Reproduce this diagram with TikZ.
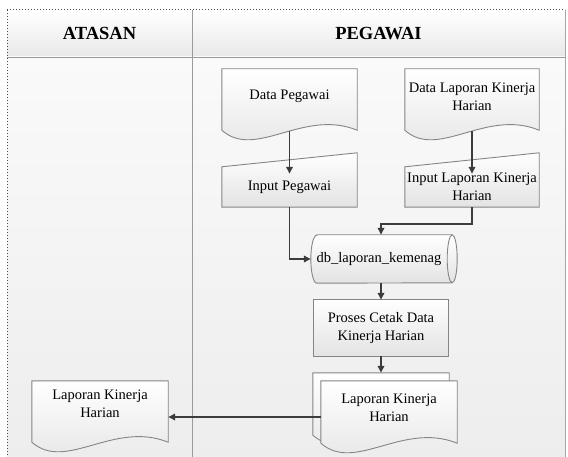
\documentclass[tikz,border=0pt]{standalone}
\usepackage{fontspec}
\setmainfont{Liberation Serif}
\usetikzlibrary{arrows.meta,calc}
\pgfdeclarelayer{lanes}
\pgfdeclarelayer{shapes}
\pgfsetlayers{lanes,shapes,main}
\definecolor{edgec}{HTML}{858585}
\definecolor{arrowc}{HTML}{3C3C3C}
\definecolor{lanec}{HTML}{9A9A9A}
\tikzset{
  box/.style={inner sep=0pt, align=center, font=\fontsize{14.5}{18}\selectfont},
  head/.style={font=\fontsize{18.5}{22}\selectfont\bfseries},
  outline/.style={draw=edgec, line width=0.9pt, top color=white, bottom color=black!11},
  arr/.style={draw=arrowc, line width=1.6pt, -{Triangle[length=7pt,width=6.5pt]}},
}
% #1 node, #2 side extension below node, #3 shift
\newcommand{\docoutline}[3]{%
  \draw[outline] ($(#1.north west)+(#3)$) -- ($(#1.north east)+(#3)$)
    -- ($(#1.south east)+(0,#2)+(#3)$)
    .. controls ($(#1.south west)!0.6!(#1.south east)+(0,#2-22)+(#3)$)
       and ($(#1.south west)!0.25!(#1.south east)+(0,#2+30)+(#3)$)
    .. ($(#1.south west)+(0,#2)+(#3)$) -- cycle;}
\begin{document}
\begin{tikzpicture}[x=1pt,y=-1pt]
\useasboundingbox (0,0) rectangle (568,457);
% lanes
\begin{pgfonlayer}{lanes}
  \shade[top color=white, bottom color=black!9] (7,10) rectangle (565,57);
  \shade[top color=black!2, bottom color=black!7] (7,57) rectangle (565,457);
  \draw[lanec, line width=0.8pt] (7,57) -- (565,57);
  \draw[lanec, line width=0.8pt] (192,10) -- (192,457);
  \draw[black!35, line width=0.6pt] (565,10) -- (565,457);
  \draw[black!70, line width=1pt, dotted] (7,10) -- (565,10);
  \draw[black!70, line width=1pt, dotted] (7,10) -- (7,457);
\end{pgfonlayer}
\node[head] (hA) at (99.5,33.5) {ATASAN};
\node[head] (hP) at (378.5,33.5) {PEGAWAI};
% nodes
\node[box, minimum width=135pt, minimum height=55pt] (dp) at (289.5,96.5) {Data Pegawai};
\node[box, minimum width=134pt, minimum height=55pt] (dl) at (472,96.5) {Data Laporan Kinerja\\Harian};
\node[box, minimum width=135pt, minimum height=40pt] (ip) at (289.5,187) {Input Pegawai};
\node[box, minimum width=134pt, minimum height=40pt] (il) at (472,187) {Input Laporan Kinerja\\Harian};
\node[box, minimum width=136pt, minimum height=48pt] (db) at (379,259) {db\_laporan\_kemenag};
\node[box, minimum width=135pt, minimum height=56pt] (pc) at (381,328) {Proses Cetak Data\\Kinerja Harian};
\node[box, minimum width=136pt, minimum height=54pt] (md) at (389,408) {Laporan Kinerja\\Harian};
\node[box, minimum width=136pt, minimum height=46pt] (ad) at (100,404) {Laporan Kinerja\\Harian};
% outlines
\begin{pgfonlayer}{shapes}
  \docoutline{dp}{6}{0,0}
  \docoutline{dl}{6}{0,0}
  \draw[outline] (ip.south west) -- (ip.south east) -- ([yshift=14pt]ip.north east) -- (ip.north west) -- cycle;
  \draw[outline] (il.south west) -- (il.south east) -- ([yshift=14pt]il.north east) -- (il.north west) -- cycle;
  \draw[outline] ([xshift=6pt]db.north west) -- ([xshift=5pt]db.north east)
     arc[start angle=90, end angle=-90, x radius=5pt, y radius=24pt]
     -- ([xshift=6pt]db.south west)
     arc[start angle=270, end angle=90, x radius=6pt, y radius=24pt] -- cycle;
  \draw[draw=edgec, line width=0.9pt] ([xshift=5pt]db.north east)
     arc[start angle=90, end angle=270, x radius=5pt, y radius=24pt];
  \draw[outline] (pc.north west) rectangle (pc.south east);
  \docoutline{md}{8}{-8,-8}
  \docoutline{md}{8}{0,0}
  \docoutline{ad}{15}{0,0}
\end{pgfonlayer}
% connectors
\draw[arr] ([yshift=-7pt]dp.south) -- ([yshift=-7pt]ip.north);
\draw[arr] ([yshift=-7pt]dl.south) -- ([yshift=-7pt]il.north);
\draw[arr] (ip.south) |- (db.west);
\coordinate (dbt) at ([xshift=2pt]db.north);
\draw[arr] (il.south) -- ++(0,17) -| (dbt);
\draw[arr] ([xshift=2pt]db.south) -- (pc.north);
\coordinate (mdb) at ($(md.north)+(-8,-8)$);
\draw[arr] (pc.south) -- (mdb);
\coordinate (mdw) at ([yshift=-9pt]md.west);
\draw[arr] (mdw) -- (mdw -| ad.east);
\end{tikzpicture}
\end{document}
